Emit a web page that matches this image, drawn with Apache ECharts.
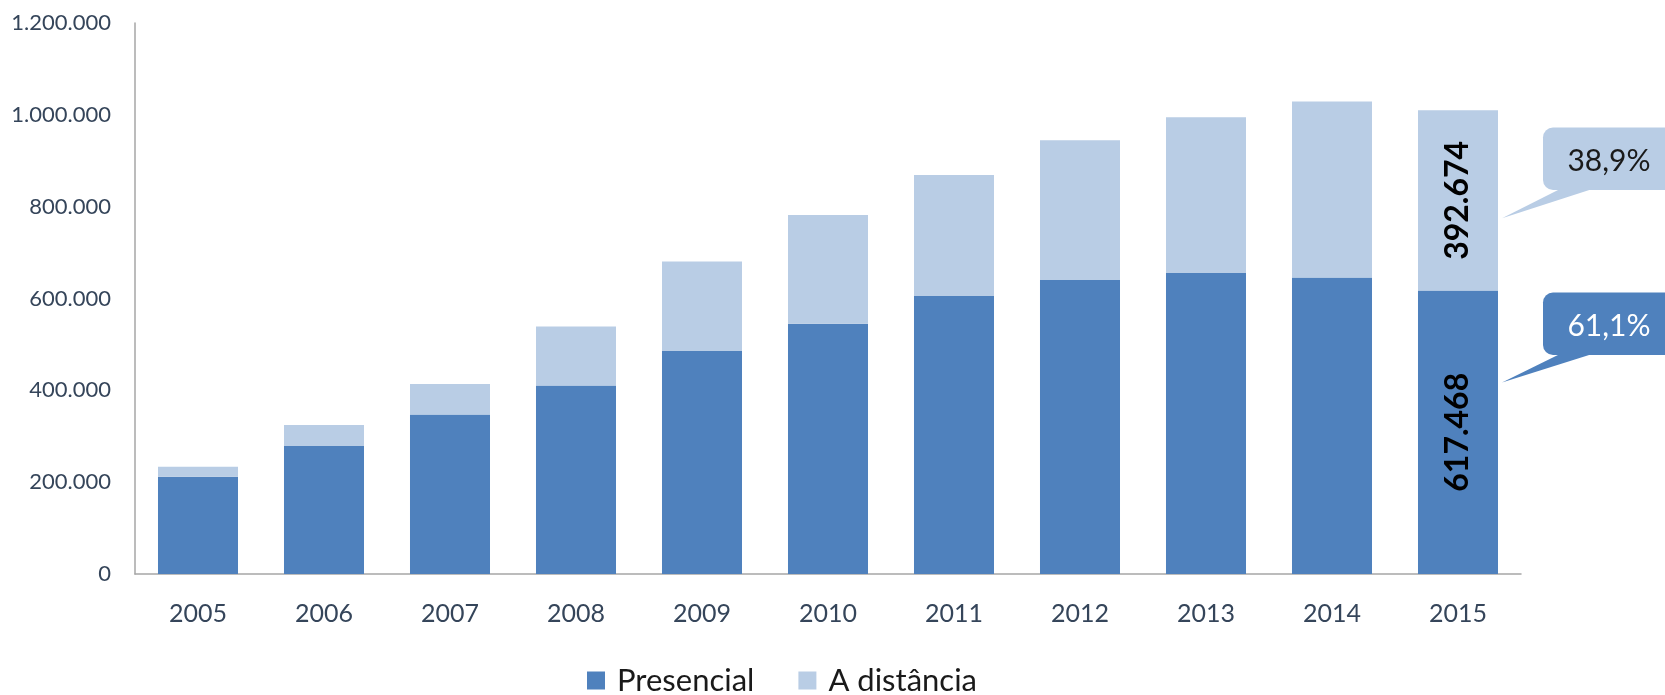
<!DOCTYPE html>
<html>
<head>
<meta charset="utf-8">
<script src="https://cdn.jsdelivr.net/npm/echarts@6/dist/echarts.min.js"></script>
<style>
html,body{margin:0;padding:0;background:#fff;}
#chart{width:1665px;height:695px;}
</style>
</head>
<body>
<div id="chart"></div>
<script>
var years = ['2005','2006','2007','2008','2009','2010','2011','2012','2013','2014','2015'];
var presencial = [212000, 278800, 347600, 410700, 485600, 545000, 605300, 640200, 655600, 645800, 617468];
var distancia = [21800, 45700, 66200, 128500, 195100, 236700, 263400, 304700, 338900, 383100, 392674];
var yTicks = [0, 200000, 400000, 600000, 800000, 1000000, 1200000];

function fmt(v){ return String(v).replace(/\B(?=(\d{3})+(?!\d))/g, '.'); }
var last = years.length - 1;
var total = presencial[last] + distancia[last];
function pct(v){ return (v / total * 100).toFixed(1).replace('.', ',') + '%'; }

var FONT = 'Lato, "Open Sans", sans-serif';
var LABEL_COLOR = '#35455a';
var DARK = '#4f81bd', LIGHT = '#b9cde5';

var chart = echarts.init(document.getElementById('chart'), null, {renderer:'canvas'});

function lastOnlyLabel(){
  return {
    show: true,
    position: 'inside',
    rotate: 90,
    fontFamily: FONT,
    fontWeight: 'bold',
    fontSize: 32,
    color: '#000',
    formatter: function(p){ return p.dataIndex === last ? fmt(p.value) : ''; }
  };
}

var option = {
  animation: false,
  backgroundColor: '#fff',
  grid: {left: 135, right: 144, top: 23, bottom: 121, containLabel: false},
  legend: {
    left: 582, top: 660,
    itemWidth: 18, itemHeight: 18, itemGap: 44,
    icon: 'rect',
    textStyle: {fontFamily: FONT, fontSize: 31, lineHeight: 31, color: '#1a1a1a', padding: [0, 0, 0, 7]},
    data: ['Presencial', 'A distância']
  },
  xAxis: {
    type: 'category',
    data: years,
    axisLine: {lineStyle: {color: '#a6a6a6', width: 1.5}},
    axisTick: {show: false},
    axisLabel: {fontFamily: FONT, fontSize: 25, color: LABEL_COLOR, margin: 27}
  },
  yAxis: {
    type: 'value',
    min: yTicks[0], max: yTicks[yTicks.length-1], interval: yTicks[1]-yTicks[0],
    axisLine: {show: true, lineStyle: {color: '#a6a6a6', width: 1.5}},
    axisTick: {show: false},
    splitLine: {show: false},
    axisLabel: {fontFamily: FONT, fontSize: 22, color: LABEL_COLOR, margin: 24,
      formatter: function(v){ return fmt(v); }}
  },
  series: [
    {name: 'Presencial', type: 'bar', stack: 's', data: presencial, barCategoryGap: '36.5%',
     itemStyle: {color: DARK}, label: lastOnlyLabel()},
    {name: 'A distância', type: 'bar', stack: 's', data: distancia, barCategoryGap: '36.5%',
     itemStyle: {color: LIGHT}, label: lastOnlyLabel()}
  ]
};
chart.setOption(option);

// Callouts (annotations) pointing to the last bar
var barRight = chart.convertToPixel({seriesIndex: 0}, [last, 0])[0] + 42;
function callout(boxTop, tipY, fill, textColor, text){
  var bx = barRight + 43;
  return [
    {type: 'polygon', shape: {points: [[bx + 20, boxTop + 60], [bx + 54, boxTop + 60], [barRight + 2, tipY]]},
     style: {fill: fill}, z: 100},
    {type: 'rect', shape: {x: bx, y: boxTop, width: 135, height: 62.5, r: 10},
     style: {fill: fill}, z: 101},
    {type: 'text', x: bx + 66, y: boxTop + 34, z: 102,
     style: {text: text, fill: textColor, font: '30px ' + FONT, align: 'center', verticalAlign: 'middle'}}
  ];
}
var lightTip = chart.convertToPixel({seriesIndex: 1}, [last, presencial[last] + distancia[last] * 0.4])[1];
var darkTip = chart.convertToPixel({seriesIndex: 0}, [last, presencial[last] * 0.675])[1];
chart.setOption({graphic: {elements: [].concat(
  callout(127.5, lightTip, LIGHT, '#1a1a1a', pct(distancia[last])),
  callout(292.5, darkTip, DARK, '#ffffff', pct(presencial[last]))
)}});
</script>
</body>
</html>
